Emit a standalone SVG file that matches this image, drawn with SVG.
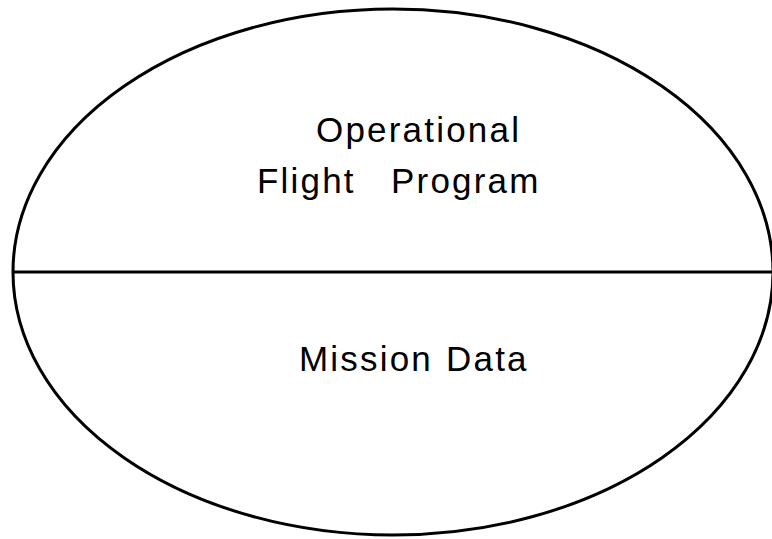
<svg xmlns="http://www.w3.org/2000/svg" width="772" height="539" viewBox="0 0 772 539">
<style>
.t{font-family:"Liberation Sans",Arial,sans-serif;font-size:35px;letter-spacing:2.2px;fill:#000}
.s{fill:none;stroke:#000;stroke-width:3}
</style>
<rect width="772" height="539" fill="#fff"/>
<g id="ellipse"><ellipse class="s" cx="393" cy="272" rx="380" ry="263"/></g>
<g id="connectors"><line class="s" x1="13" y1="272" x2="772" y2="272"/></g>
<g id="ofp">
<text class="t" x="316" y="142">Operational</text>
<text class="t" x="257" y="193">Flight</text>
<text class="t" x="391" y="193">Program</text>
</g>
<g id="mission">
<text class="t" x="299" y="371">Mission</text>
<text class="t" x="446" y="371">Data</text>
</g>
</svg>
